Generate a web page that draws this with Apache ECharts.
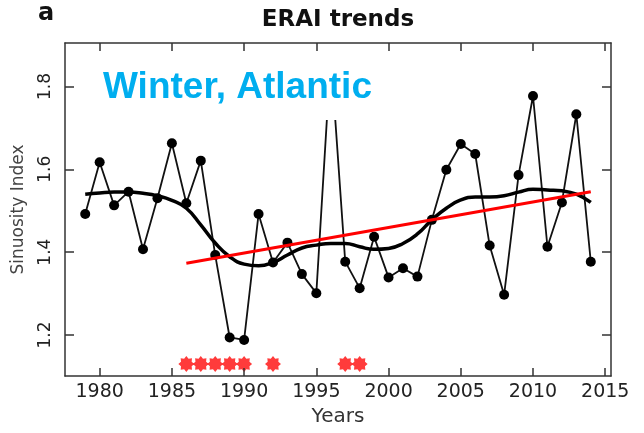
<!DOCTYPE html>
<html>
<head>
<meta charset="utf-8">
<script src="https://cdn.jsdelivr.net/npm/echarts@6/dist/echarts.min.js"></script>
<style>
html,body{margin:0;padding:0;background:#fff;}
#chart{width:644px;height:433px;}
</style>
</head>
<body>
<div id="chart"></div>
<script>
// ---- data ----
const years = [1979,1980,1981,1982,1983,1984,1985,1986,1987,1988,1989,1990,1991,1992,1993,1994,1995,1996,
               1997,1998,1999,2000,2001,2002,2003,2004,2005,2006,2007,2008,2009,2010,2011,2012,2013,2014];
const sinuosity = [1.492,1.617,1.513,1.546,1.407,1.530,1.663,1.518,1.621,1.393,1.194,1.188,1.492,1.375,1.423,1.347,1.301,1.875,
                   1.377,1.313,1.437,1.339,1.361,1.341,1.478,1.599,1.661,1.637,1.416,1.297,1.586,1.777,1.413,1.520,1.733,1.377];
const smoothFit = [1.540,1.543,1.545,1.545,1.542,1.536,1.525,1.506,1.466,1.422,1.389,1.371,1.367,1.375,1.393,1.410,1.417,1.421,
                   1.421,1.413,1.407,1.409,1.421,1.444,1.478,1.506,1.526,1.533,1.533,1.536,1.545,1.552,1.550,1.548,1.540,1.520];
const trendYears = [1986, 2014];
const trendValues = [1.373, 1.546];
const starYears = [1986,1987,1988,1989,1990,1992,1997,1998];
const starLevel = 1.13;
const xTicks = [1980,1985,1990,1995,2000,2005,2010,2015];
const yTicks = [1.2,1.4,1.6,1.8];

// ---- symbol shape ----
function starPath(n, ro, ri) {
  let s = 'path://';
  for (let k = 0; k < 2 * n; k++) {
    const a = Math.PI * k / n;
    const r = (k % 2 === 0) ? ro : ri;
    const x = (10 + r * Math.sin(a)).toFixed(2);
    const y = (10 - r * Math.cos(a)).toFixed(2);
    s += (k === 0 ? 'M' : 'L') + x + ' ' + y + ' ';
  }
  return s + 'Z';
}

const pair = (xs, ys) => xs.map((x, i) => [x, ys[i]]);

const axisTextFont = 'DejaVu Sans';
const frameLine = { show: true, lineStyle: { color: '#333', width: 1.5 } };

const chart = echarts.init(document.getElementById('chart'), null, { renderer: 'canvas' });
chart.setOption({
  animation: false,
  backgroundColor: '#fff',
  grid: { left: 65, right: 33, top: 43, bottom: 57, containLabel: false, outerBoundsMode: 'none' },
  xAxis: [
    {
      type: 'value', position: 'bottom', min: 1977.6, max: 2015.4, z: 60,
      axisLine: frameLine,
      splitLine: { show: false },
      axisTick: { show: true, inside: true, length: 8, customValues: xTicks, lineStyle: { color: '#333', width: 1.5 } },
      axisLabel: { show: true, customValues: xTicks, fontFamily: axisTextFont, fontSize: 19, color: '#222', margin: 7,
                   formatter: v => String(Math.round(v)) },
      name: 'Years', nameLocation: 'middle', nameGap: 27,
      nameTextStyle: { fontFamily: axisTextFont, fontSize: 20, color: '#333' }
    },
    {
      type: 'value', position: 'top', min: 1977.6, max: 2015.4, z: 60,
      axisLine: frameLine,
      splitLine: { show: false },
      axisTick: { show: true, inside: true, length: 8, customValues: xTicks, lineStyle: { color: '#333', width: 1.5 } },
      axisLabel: { show: false }
    }
  ],
  yAxis: [
    {
      type: 'value', position: 'left', min: 1.101, max: 1.905, z: 60,
      axisLine: frameLine,
      splitLine: { show: false },
      axisTick: { show: true, inside: true, length: 9, customValues: yTicks, lineStyle: { color: '#333', width: 1.5 } },
      axisLabel: { show: true, customValues: yTicks, rotate: 90, fontFamily: axisTextFont, fontSize: 17, color: '#222', margin: 11,
                   formatter: v => v.toFixed(1) },
      name: 'Sinuosity Index', nameLocation: 'middle', nameGap: 38, nameRotate: 90,
      nameTextStyle: { fontFamily: axisTextFont, fontSize: 17, color: '#444' }
    },
    {
      type: 'value', position: 'right', min: 1.101, max: 1.905, z: 60,
      axisLine: frameLine,
      splitLine: { show: false },
      axisTick: { show: true, inside: true, length: 9, customValues: yTicks, lineStyle: { color: '#333', width: 1.5 } },
      axisLabel: { show: false }
    }
  ],
  series: [
    {
      type: 'line', name: 'Sinuosity', data: pair(years, sinuosity),
      symbol: 'circle', symbolSize: 10, showAllSymbol: true,
      itemStyle: { color: '#000' }, lineStyle: { color: '#111', width: 1.8 }, z: 3
    },
    {
      type: 'line', name: 'Smooth', data: pair(years, smoothFit), smooth: 0.5,
      showSymbol: false, lineStyle: { color: '#000', width: 3.5 }, z: 4
    },
    {
      type: 'line', name: 'Trend', data: pair(trendYears, trendValues),
      showSymbol: false, lineStyle: { color: '#ff0000', width: 3 }, z: 5
    },
    {
      type: 'scatter', name: 'Significant', data: starYears.map(y => [y, starLevel]),
      symbol: starPath(8, 10, 7.2), symbolSize: 16, itemStyle: { color: '#ff0a0a' }, z: 6
    }
  ],
  graphic: [
    { type: 'rect', z: 50, shape: { x: 95, y: 46, width: 290, height: 74 }, style: { fill: '#fff' } },
    { type: 'text', z: 51, x: 103, y: 87.5,
      style: { text: 'Winter, Atlantic', font: 'bold 37px "Liberation Sans", Arial, sans-serif', fill: '#00aeef',
               textAlign: 'left', textVerticalAlign: 'middle' } },
    { type: 'text', z: 51, x: 338, y: 20,
      style: { text: 'ERAI trends', font: 'bold 23px "DejaVu Sans", sans-serif', fill: '#111',
               textAlign: 'center', textVerticalAlign: 'middle' } },
    { type: 'text', z: 51, x: 38, y: 14,
      style: { text: 'a', font: 'bold 24px "DejaVu Sans", sans-serif', fill: '#111',
               textAlign: 'left', textVerticalAlign: 'middle' } }
  ]
});
</script>
</body>
</html>
